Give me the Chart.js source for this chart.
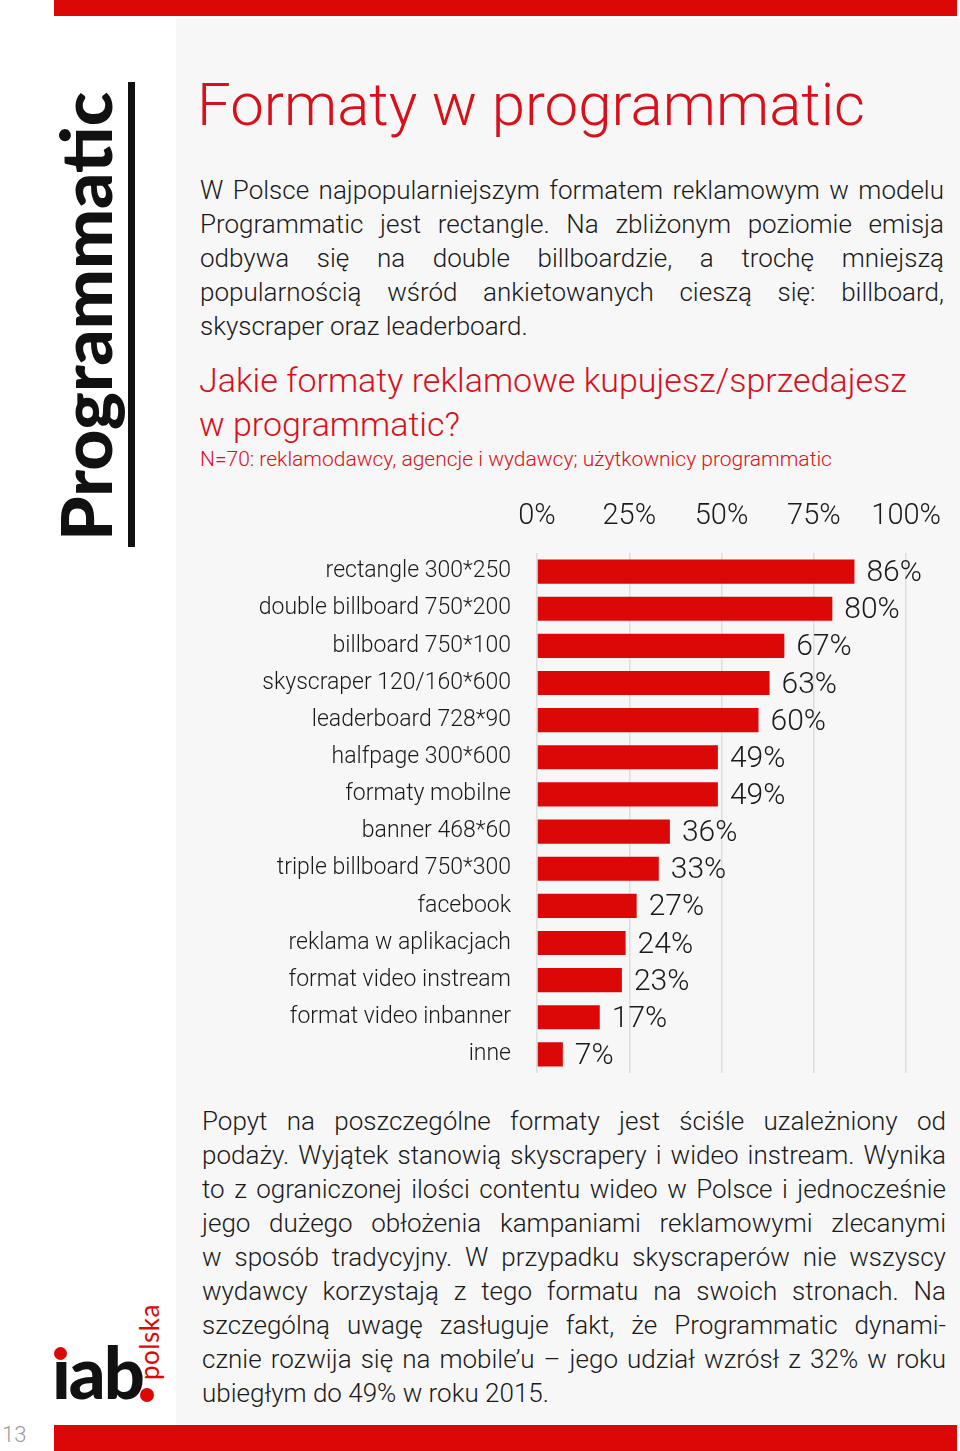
<!DOCTYPE html>
<html lang="pl">
<head>
<meta charset="utf-8">
<script src="https://cdn.jsdelivr.net/npm/chart.js@4.4.1/dist/chart.umd.min.js"></script>
<style>
  html, body { margin: 0; padding: 0; }
  body { width: 960px; height: 1451px; position: relative; background: #fff; overflow: hidden;
         font-family: Roboto, "Open Sans", sans-serif; font-weight: 300; color: #1a1a1a; }
  .abs { position: absolute; }
  .red-bar { background: #dc0808; }
  .panel { left: 176px; top: 18px; width: 784px; height: 1407px; background: #f7f7f7; }
  .side-title { left: 0; top: 0; font-family: Lato, sans-serif; font-weight: 900; font-size: 70px;
                color: #111; white-space: nowrap; transform-origin: 0 0; line-height: 1; }
  .title { left: 197px; top: 68px; font-size: 60px; color: #d7101a; line-height: 74px; white-space: nowrap; }
  .para { font-size: 26px; line-height: 34px; }
  .para div { text-align: justify; text-align-last: justify; white-space: nowrap; }
  .para div.last { text-align-last: left; }
  .question { left: 199px; top: 358px; font-size: 34px; line-height: 44px; color: #d7101a; white-space: nowrap; }
  .sample { left: 200px; top: 446px; font-size: 21px; line-height: 26px; color: #d7101a; white-space: nowrap; }
  #chartBox { left: 180px; top: 490px; width: 780px; height: 600px; }
</style>
</head>
<body>
<div class="abs red-bar" style="left:54px;top:0;width:903px;height:16px"></div>
<div class="abs panel"></div>
<div class="abs red-bar" style="left:54px;top:1425px;width:903px;height:26px"></div>

<div class="abs side-title" id="sideTitle">Programmatic</div>
<div class="abs" style="left:128px;top:82px;width:7px;height:465px;background:#111"></div>

<div class="abs title">Formaty w programmatic</div>

<div class="abs para" style="left:200px;top:173px;width:744px">
  <div>W Polsce najpopularniejszym formatem reklamowym w modelu</div>
  <div>Programmatic jest rectangle. Na zbliżonym poziomie emisja</div>
  <div>odbywa się na double billboardzie, a trochę mniejszą</div>
  <div>popularnością wśród ankietowanych cieszą się: billboard,</div>
  <div class="last">skyscraper oraz leaderboard.</div>
</div>

<div class="abs question">Jakie formaty reklamowe kupujesz/sprzedajesz<br>w programmatic?</div>
<div class="abs sample">N=70: reklamodawcy, agencje i wydawcy; użytkownicy programmatic</div>

<div class="abs" id="chartBox"><canvas id="formatsChart" width="780" height="600"></canvas></div>

<div class="abs para" style="left:202px;top:1104px;width:744px">
  <div>Popyt na poszczególne formaty jest ściśle uzależniony od</div>
  <div>podaży. Wyjątek stanowią skyscrapery i wideo instream. Wynika</div>
  <div>to z ograniczonej ilości contentu wideo w Polsce i jednocześnie</div>
  <div>jego dużego obłożenia kampaniami reklamowymi zlecanymi</div>
  <div>w sposób tradycyjny. W przypadku skyscraperów nie wszyscy</div>
  <div>wydawcy korzystają z tego formatu na swoich stronach. Na</div>
  <div>szczególną uwagę zasługuje fakt, że Programmatic dynami-</div>
  <div>cznie rozwija się na mobile’u – jego udział wzrósł z 32% w roku</div>
  <div class="last">ubiegłym do 49% w roku 2015.</div>
</div>

<!-- logo iab polska -->
<div class="abs" style="left:52px;top:1326px;font-family:Lato,sans-serif;font-weight:900;font-size:72px;line-height:90px;color:#111;letter-spacing:-2px">ıab</div>
<div class="abs" style="left:54px;top:1347px;width:13px;height:13px;border-radius:50%;background:#dc0808"></div>
<div class="abs" style="left:139px;top:1380px;transform:rotate(-90deg);transform-origin:0 0;font-family:Lato,sans-serif;font-weight:400;font-size:26px;line-height:20px;color:#dc0808;letter-spacing:0.5px">polska</div>
<div class="abs" style="left:140px;top:1388px;width:14px;height:14px;border-radius:50%;background:#dc0808"></div>

<div class="abs" style="left:2px;top:1422px;font-size:22px;line-height:26px;color:#9a9a9a">13</div>

<script>
const categories = [
    'rectangle 300*250', 'double billboard 750*200', 'billboard 750*100', 'skyscraper 120/160*600',
    'leaderboard 728*90', 'halfpage 300*600', 'formaty mobilne', 'banner 468*60',
    'triple billboard 750*300', 'facebook', 'reklama w aplikacjach', 'format video instream',
    'format video inbanner', 'inne'
];
const values = [86, 80, 67, 63, 60, 49, 49, 36, 33, 27, 24, 23, 17, 7];
const tickValues = [0, 25, 50, 75, 100];

// vertical side title, stretched to the length seen in the print
const side = document.getElementById('sideTitle');
const sideW = side.offsetWidth;
side.style.transform = 'translate(50px, 541px) rotate(-90deg) scaleX(' + (449 / sideW) + ')';

const valueLabels = {
    id: 'valueLabels',
    afterDatasetsDraw(chart) {
        const ctx = chart.ctx;
        const meta = chart.getDatasetMeta(0);
        ctx.save();
        ctx.font = '300 30px Roboto';
        ctx.fillStyle = '#1a1a1a';
        ctx.textBaseline = 'middle';
        meta.data.forEach((bar, i) => {
            ctx.fillText(values[i] + '%', bar.x + 12, bar.y + 2);
        });
        ctx.restore();
    }
};

const ctx = document.getElementById('formatsChart').getContext('2d');
new Chart(ctx, {
    type: 'bar',
    data: {
        labels: categories,
        datasets: [{
            data: values,
            backgroundColor: '#dc0808',
            barPercentage: 0.65,
            categoryPercentage: 1
        }]
    },
    options: {
        indexAxis: 'y',
        responsive: false,
        animation: false,
        devicePixelRatio: 1,
        layout: { padding: { right: 53, bottom: 17, top: 0, left: 0 } },
        plugins: { legend: { display: false }, tooltip: { enabled: false } },
        scales: {
            x: {
                position: 'top',
                min: 0,
                max: 100,
                afterBuildTicks: s => { s.ticks = tickValues.map(v => ({ value: v })); },
                afterFit: s => { s.height = 63; },
                grid: { color: '#dedede', lineWidth: 1.5, drawTicks: false },
                border: { display: false },
                ticks: {
                    padding: 19,
                    color: '#1a1a1a',
                    font: { family: 'Roboto', size: 29, weight: '300' },
                    callback: v => v + '%'
                }
            },
            y: {
                afterFit: s => { s.width = 357; s.paddingTop = 0; s.paddingBottom = 0; },
                grid: { display: false, drawTicks: false },
                border: { display: false },
                ticks: {
                    padding: 26,
                    color: '#1a1a1a',
                    font: { family: 'Roboto', size: 23, weight: '300' }
                }
            }
        }
    },
    plugins: [valueLabels]
});
</script>
</body>
</html>
